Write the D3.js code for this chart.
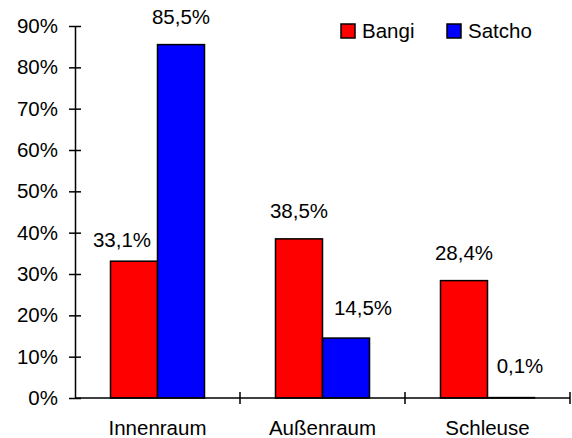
<!DOCTYPE html>
<html>
<head>
<meta charset="utf-8">
<script src="https://cdn.jsdelivr.net/npm/d3@7"></script>
<style>
  html, body { margin: 0; padding: 0; background: #fff; }
  svg { display: block; font-family: "Liberation Sans", Arial, sans-serif; }
</style>
</head>
<body>
<svg id="chart" width="572" height="438"></svg>
<script>
// Anteile je Ort
const categories = ["Innenraum", "Außenraum", "Schleuse"];
const seriesNames = ["Bangi", "Satcho"];
const bangi = [33.1, 38.5, 28.4];
const satcho = [85.5, 14.5, 0.1];
const yTicks = [0, 10, 20, 30, 40, 50, 60, 70, 80, 90];
const seriesColors = ["#ff0000", "#0000ff"];
// label shifts (dx, dy) for labels that sit beside their bar
const labelNudge = [[[-12, 7], [0, 0]], [[0, 0], [17, -2]], [[0, 0], [9, -4]]];

const values = [bangi, satcho];
const svg = d3.select("#chart");
const fontSize = 20.5;

const plot = { left: 75, right: 570, top: 26, bottom: 398 };

const x0 = d3.scaleBand().domain(categories).range([plot.left, plot.right]).paddingInner(0).paddingOuter(0);
const x1 = d3.scaleBand().domain(seriesNames).range([0, x0.bandwidth()]).paddingInner(0).paddingOuter(0.755);
const y = d3.scaleLinear().domain([0, 90]).range([plot.bottom, plot.top]);

const de = d3.formatLocale({ decimal: ",", thousands: ".", grouping: [3], currency: ["", " €"] });
const fmt1 = de.format(".1f");

// bars
categories.forEach((cat, ci) => {
  const g = svg.append("g").attr("transform", `translate(${x0(cat)},0)`);
  seriesNames.forEach((s, si) => {
    const v = values[si][ci];
    g.append("rect")
      .attr("x", x1(s))
      .attr("y", y(v))
      .attr("width", x1.bandwidth())
      .attr("height", y(0) - y(v))
      .attr("fill", seriesColors[si])
      .attr("stroke", "#000")
      .attr("stroke-width", 1.5);
  });
});

// y axis
const yAxis = d3.axisLeft(y).tickValues(yTicks).tickFormat(d => d + "%").tickSize(0).tickPadding(17);
const ya = svg.append("g").attr("transform", `translate(${plot.left},0)`).call(yAxis);
ya.select(".domain").attr("stroke", "#000").attr("stroke-width", 1.5);
ya.selectAll("text").attr("font-size", fontSize).attr("font-family", "Liberation Sans, Arial, sans-serif").attr("fill", "#000");
ya.selectAll(".tick").append("line").attr("x1", -6).attr("x2", 6).attr("stroke", "#000").attr("stroke-width", 1.5);

// x axis
svg.append("line")
  .attr("x1", plot.left).attr("x2", plot.right)
  .attr("y1", y(0)).attr("y2", y(0))
  .attr("stroke", "#000").attr("stroke-width", 1.5);
const bounds = categories.map(c => x0(c) + x0.bandwidth());
svg.selectAll(".xtick").data(bounds).join("line")
  .attr("class", "xtick")
  .attr("x1", d => d).attr("x2", d => d)
  .attr("y1", y(0) - 6).attr("y2", y(0) + 6)
  .attr("stroke", "#000").attr("stroke-width", 1.5);
svg.selectAll(".xlabel").data(categories).join("text")
  .attr("class", "xlabel")
  .attr("x", d => x0(d) + x0.bandwidth() / 2)
  .attr("y", 435)
  .attr("text-anchor", "middle")
  .attr("font-size", fontSize)
  .attr("fill", "#000")
  .text(d => d);

// value labels
categories.forEach((cat, ci) => {
  seriesNames.forEach((s, si) => {
    const v = values[si][ci];
    const [dx, dy] = labelNudge[ci][si];
    svg.append("text")
      .attr("x", x0(cat) + x1(s) + x1.bandwidth() / 2 + dx)
      .attr("y", y(v) - 21 + dy)
      .attr("text-anchor", "middle")
      .attr("font-size", fontSize)
      .attr("fill", "#000")
      .text(fmt1(v) + "%");
  });
});

// legend
const legendX = [341, 447];
seriesNames.forEach((s, si) => {
  svg.append("rect")
    .attr("x", legendX[si]).attr("y", 24)
    .attr("width", 14).attr("height", 14)
    .attr("fill", seriesColors[si])
    .attr("stroke", "#000").attr("stroke-width", 1.5);
  svg.append("text")
    .attr("x", legendX[si] + 21).attr("y", 37.5)
    .attr("font-size", fontSize)
    .attr("fill", "#000")
    .text(s);
});
</script>
</body>
</html>
